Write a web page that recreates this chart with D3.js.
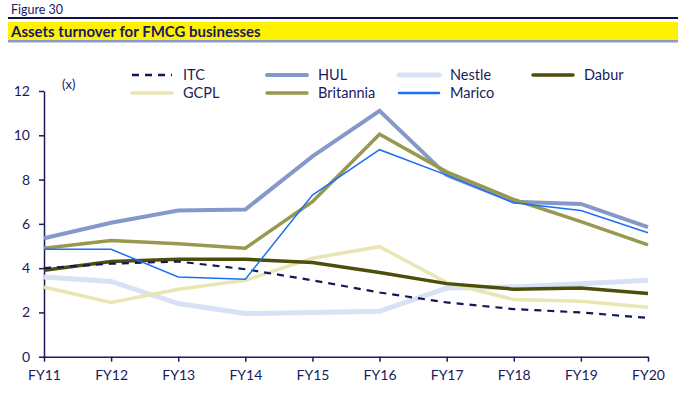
<meta charset="utf-8">
<script src="https://d3js.org/d3.v7.min.js"></script>
<style>
    body { margin: 0; background: #fff; }
    text { font-family: Lato, "Open Sans", sans-serif; fill: #1a1a5e; }
</style>
<svg width="690" height="398"></svg>
<script>
    var years = ["FY11", "FY12", "FY13", "FY14", "FY15", "FY16", "FY17", "FY18", "FY19", "FY20"];
    var itc = [4.0, 4.2, 4.3, 3.95, 3.45, 2.9, 2.45, 2.15, 2.0, 1.75];
    var hul = [5.35, 6.05, 6.6, 6.65, 9.05, 11.1, 8.2, 7.0, 6.9, 5.85];
    var nestle = [3.6, 3.4, 2.4, 1.95, 2.0, 2.05, 3.1, 3.15, 3.3, 3.45];
    var dabur = [3.9, 4.3, 4.4, 4.4, 4.25, 3.8, 3.3, 3.05, 3.1, 2.85];
    var gcpl = [3.15, 2.45, 3.05, 3.45, 4.45, 4.97, 3.35, 2.58, 2.5, 2.23];
    var britannia = [4.9, 5.25, 5.1, 4.9, 7.0, 10.05, 8.35, 7.1, 6.1, 5.05];
    var marico = [4.85, 4.85, 3.6, 3.5, 7.3, 9.35, 8.2, 6.95, 6.6, 5.6];
    var yTicks = [0, 2, 4, 6, 8, 10, 12];

    var series = [
        {name: "Nestle", values: nestle, color: "#d9e1f4", width: 5},
        {name: "GCPL", values: gcpl, color: "#e8e6b2", width: 3.5},
        {name: "Dabur", values: dabur, color: "#4d4d0c", width: 3.5},
        {name: "ITC", values: itc, color: "#16165a", width: 2.2, dash: "7,6"},
        {name: "HUL", values: hul, color: "#8598c9", width: 4},
        {name: "Britannia", values: britannia, color: "#98984f", width: 3.5},
        {name: "Marico", values: marico, color: "#1b6ff5", width: 1.5}
    ];
    var byName = {};
    series.forEach(function(s) { byName[s.name] = s; });

    var svg = d3.select("svg");
    var navy = "#1a1a5e";

    // header
    svg.append("text").attr("x", 11).attr("y", 14)
        .attr("font-size", "12.5px").text("Figure 30");
    svg.append("rect").attr("x", 8).attr("y", 17).attr("width", 670).attr("height", 2).attr("fill", "#10104a");
    svg.append("rect").attr("x", 8).attr("y", 22).attr("width", 670).attr("height", 18).attr("fill", "#fff200");
    svg.append("rect").attr("x", 8).attr("y", 40).attr("width", 670).attr("height", 2.5).attr("fill", "#8a9cc8");
    svg.append("text").attr("x", 11).attr("y", 36.5)
        .attr("font-size", "15px").attr("font-weight", "bold").text("Assets turnover for FMCG businesses");

    var x = d3.scalePoint().domain(years).range([44, 648]);
    var y = d3.scaleLinear().domain([0, 12]).range([356.7, 91]);

    var gx = svg.append("g").attr("transform", "translate(0,356.7)")
        .call(d3.axisBottom(x).tickSize(5).tickPadding(8).tickSizeOuter(0));
    var gy = svg.append("g").attr("transform", "translate(44,0)")
        .call(d3.axisLeft(y).tickValues(yTicks).tickSize(5).tickPadding(9).tickSizeOuter(0));
    [gx, gy].forEach(function(g) {
        g.selectAll("path, line").attr("stroke", navy).attr("stroke-width", 1.5);
        g.selectAll("text").attr("font-size", "14px").attr("fill", navy)
            .style("font-family", "Lato, sans-serif");
    });

    svg.append("text").attr("x", 62).attr("y", 89).attr("font-size", "13px").text("(x)");

    var line = d3.line()
        .x(function(d, i) { return x(years[i]); })
        .y(function(d) { return y(d); });

    svg.append("g").selectAll("path")
        .data(series)
        .enter().append("path")
        .attr("d", function(d) { return line(d.values); })
        .attr("fill", "none")
        .attr("stroke", function(d) { return d.color; })
        .attr("stroke-width", function(d) { return d.width; })
        .attr("stroke-dasharray", function(d) { return d.dash || null; })
        .attr("stroke-linejoin", "miter");

    // legend
    var legend = [
        {name: "ITC", x: 132, y: 75}, {name: "HUL", x: 267, y: 75},
        {name: "Nestle", x: 399, y: 75}, {name: "Dabur", x: 533, y: 75},
        {name: "GCPL", x: 132, y: 93}, {name: "Britannia", x: 267, y: 93},
        {name: "Marico", x: 399, y: 93}
    ];
    var lg = svg.append("g").selectAll("g").data(legend).enter().append("g");
    lg.append("line")
        .attr("x1", function(d) { return d.x; })
        .attr("x2", function(d) { return d.x + 40; })
        .attr("y1", function(d) { return d.y; })
        .attr("y2", function(d) { return d.y; })
        .attr("stroke", function(d) { return byName[d.name].color; })
        .attr("stroke-width", function(d) { return Math.max(byName[d.name].width, 2.5); })
        .attr("stroke-dasharray", function(d) { return byName[d.name].dash || null; })
        .attr("stroke-linecap", function(d) { return byName[d.name].dash ? "butt" : "round"; });
    lg.append("text")
        .attr("x", function(d) { return d.x + 51; })
        .attr("y", function(d) { return d.y + 5; })
        .attr("font-size", "14.5px")
        .text(function(d) { return d.name; });
</script>
